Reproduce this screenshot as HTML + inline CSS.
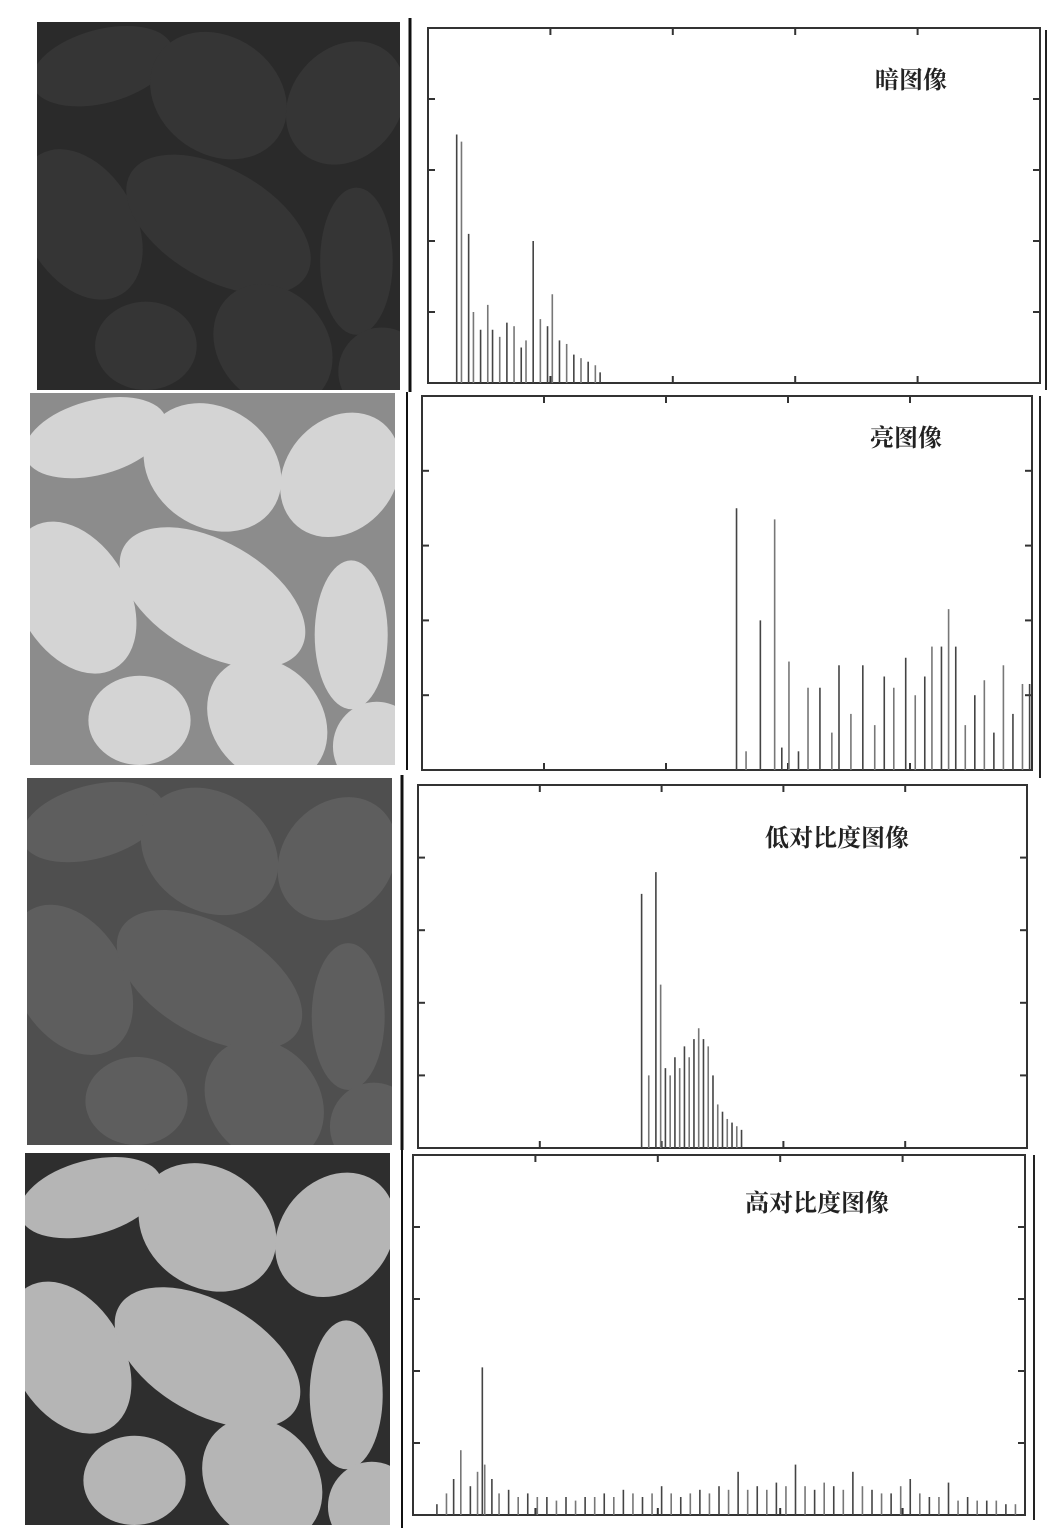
<!DOCTYPE html>
<html><head><meta charset="utf-8">
<style>
html,body{margin:0;padding:0;background:#fff;}
svg{display:block;}
text{font-family:"Liberation Serif","Noto Serif CJK SC","Noto Sans CJK SC",serif;font-weight:bold;}
</style></head>
<body>
<svg id="fig" width="1052" height="1534" viewBox="0 0 1052 1534" xmlns="http://www.w3.org/2000/svg">
<rect x="0" y="0" width="1052" height="1534" fill="#fff"/>
<line x1="410" y1="18" x2="410" y2="392" stroke="#111" stroke-width="3"/>
<line x1="407" y1="392" x2="407" y2="770" stroke="#111" stroke-width="2"/>
<line x1="402" y1="775" x2="402" y2="1150" stroke="#111" stroke-width="3"/>
<line x1="402" y1="1150" x2="402" y2="1528" stroke="#111" stroke-width="2"/>
<line x1="1046" y1="30" x2="1046" y2="390" stroke="#222" stroke-width="2"/>
<line x1="1040" y1="396" x2="1040" y2="778" stroke="#222" stroke-width="2"/>
<line x1="1034" y1="1155" x2="1034" y2="1520" stroke="#222" stroke-width="2"/>
<g id="images"></g>
<g id="charts"></g>
</svg>
<script>
// ---- chart data (bin index 0..255, relative count 0..1) ----
const darkBins   = [12,14,17,19,22,25,27,30,33,36,39,41,44,47,50,52,55,58,61,64,67,70,72];
const darkVals   = [0.70,0.68,0.42,0.20,0.15,0.22,0.15,0.13,0.17,0.16,0.10,0.12,0.40,0.18,0.16,0.25,0.12,0.11,0.08,0.07,0.06,0.05,0.03];
const brightBins = [132,136,142,148,151,154,158,162,167,172,175,180,185,190,194,198,203,207,211,214,218,221,224,228,232,236,240,244,248,252,255];
const brightVals = [0.70,0.05,0.40,0.67,0.06,0.29,0.05,0.22,0.22,0.10,0.28,0.15,0.28,0.12,0.25,0.22,0.30,0.20,0.25,0.33,0.33,0.43,0.33,0.12,0.20,0.24,0.10,0.28,0.15,0.23,0.23];
const lowBins    = [94,97,100,102,104,106,108,110,112,114,116,118,120,122,124,126,128,130,132,134,136];
const lowVals    = [0.70,0.20,0.76,0.45,0.22,0.20,0.25,0.22,0.28,0.25,0.30,0.33,0.30,0.28,0.20,0.12,0.10,0.08,0.07,0.06,0.05];
const highBins   = [10,14,17,20,24,27,29,30,33,36,40,44,48,52,56,60,64,68,72,76,80,84,88,92,96,100,104,108,112,116,120,124,128,132,136,140,144,148,152,156,160,164,168,172,176,180,184,188,192,196,200,204,208,212,216,220,224,228,232,236,240,244,248,252];
const highVals   = [0.03,0.06,0.10,0.18,0.08,0.12,0.41,0.14,0.10,0.06,0.07,0.05,0.06,0.05,0.05,0.04,0.05,0.04,0.05,0.05,0.06,0.05,0.07,0.06,0.05,0.06,0.08,0.06,0.05,0.06,0.07,0.06,0.08,0.07,0.12,0.07,0.08,0.07,0.09,0.08,0.14,0.08,0.07,0.09,0.08,0.07,0.12,0.08,0.07,0.06,0.06,0.08,0.10,0.06,0.05,0.05,0.09,0.04,0.05,0.04,0.04,0.04,0.03,0.03];
const chartTitles = ["暗图像","亮图像","低对比度图像","高对比度图像"];

const NS="http://www.w3.org/2000/svg";
function mk(tag,attrs,parent){const e=document.createElementNS(NS,tag);for(const k in attrs)e.setAttribute(k,attrs[k]);parent.appendChild(e);return e;}

const frames=[
 {x:428,y:28,w:612,h:355,bins:darkBins,vals:darkVals,tx:875,ty:88},
 {x:422,y:396,w:610,h:374,bins:brightBins,vals:brightVals,tx:870,ty:446},
 {x:418,y:785,w:609,h:363,bins:lowBins,vals:lowVals,tx:765,ty:846},
 {x:413,y:1155,w:612,h:360,bins:highBins,vals:highVals,tx:745,ty:1211}
];
const charts=document.getElementById('charts');
frames.forEach((f,i)=>{
  const g=mk('g',{},charts);
  
  
  const xs=b=>f.x+ (b/256)*f.w;
  const ys=v=>f.y+f.h - v*f.h;
  const fr=mk('rect',{x:f.x,y:f.y,width:f.w,height:f.h,fill:'none',stroke:'#333','stroke-width':2},g);
  
  
  for(let k=1;k<5;k++){
    const tx=f.x+k*f.w/5;
    mk('line',{x1:tx,y1:f.y,x2:tx,y2:f.y+7,stroke:'#333','stroke-width':2},g);
    mk('line',{x1:tx,y1:f.y+f.h,x2:tx,y2:f.y+f.h-7,stroke:'#333','stroke-width':2},g);
    const ty=f.y+f.h-k*f.h/5;
    mk('line',{x1:f.x,y1:ty,x2:f.x+7,y2:ty,stroke:'#333','stroke-width':2},g);
    mk('line',{x1:f.x+f.w,y1:ty,x2:f.x+f.w-7,y2:ty,stroke:'#333','stroke-width':2},g);
  }
  f.bins.forEach((b,j)=>{
    const bar=mk('line',{x1:xs(b),x2:xs(b),y1:f.y+f.h,y2:ys(f.vals[j]),stroke:j%2?'#777':'#444','stroke-width':1.6},g);
    
    
  });
  const t=mk('text',{x:f.tx,y:f.ty,'font-size':24,fill:'#222'},g);
  t.textContent=chartTitles[i];
  
  
});

// ---- photos (decorative) ----
const imgs=[
 {x:37,y:22,w:363,h:368,bg:'#2a2a2a',fg:'#353535'},
 {x:30,y:393,w:365,h:372,bg:'#8c8c8c',fg:'#d4d4d4'},
 {x:27,y:778,w:365,h:367,bg:'#4f4f4f',fg:'#5e5e5e'},
 {x:25,y:1153,w:365,h:372,bg:'#2e2e2e',fg:'#b5b5b5'}
];
const shapes=[[0.18,0.12,0.2,0.1,-15],[0.5,0.2,0.2,0.16,35],[0.85,0.22,0.15,0.18,40],[0.12,0.55,0.15,0.22,-30],[0.5,0.55,0.28,0.15,30],[0.88,0.65,0.1,0.2,0],[0.3,0.88,0.14,0.12,0],[0.65,0.88,0.15,0.18,-40],[0.95,0.95,0.12,0.12,0]];
const ig=document.getElementById('images');
imgs.forEach((m,i)=>{
  const g=mk('g',{},ig);
  
  
  mk('rect',{x:m.x,y:m.y,width:m.w,height:m.h,fill:m.bg},g);
  const cp=mk('clipPath',{id:'cp'+i},g);
  mk('rect',{x:m.x,y:m.y,width:m.w,height:m.h},cp);
  const sg=mk('g',{'clip-path':'url(#cp'+i+')'},g);
  shapes.forEach(s=>{
    const cx=m.x+s[0]*m.w, cy=m.y+s[1]*m.h;
    mk('ellipse',{cx:cx,cy:cy,rx:s[2]*m.w,ry:s[3]*m.h,fill:m.fg,transform:`rotate(${s[4]} ${cx} ${cy})`},sg);
  });
});
</script>
</body></html>
